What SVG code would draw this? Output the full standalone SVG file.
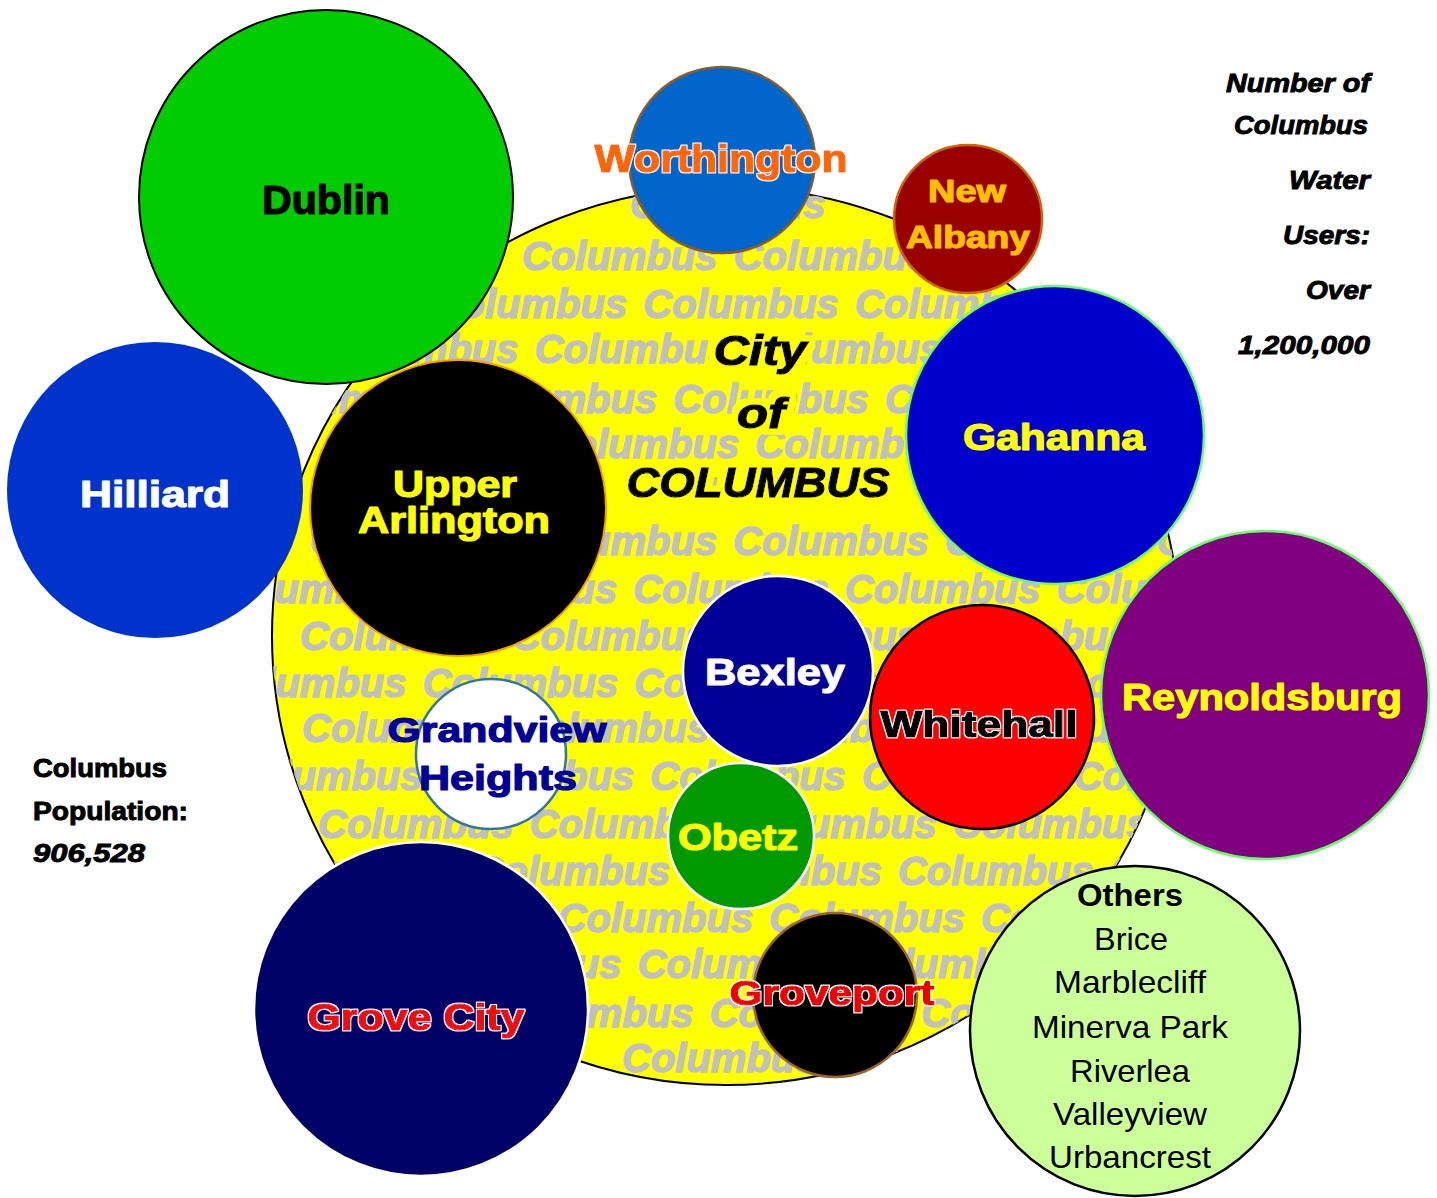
<svg xmlns="http://www.w3.org/2000/svg" width="1437" height="1198" viewBox="0 0 1437 1198">
<style>
.lbl{font-family:"Liberation Sans",Arial,sans-serif;font-weight:bold;text-anchor:middle;fill:currentColor;stroke:currentColor;stroke-width:1.2px;stroke-linejoin:round}
.wm{font-family:"Liberation Sans",Arial,sans-serif;font-weight:bold;font-style:italic;font-size:40px;fill:#C0C0C0;stroke:#C0C0C0;stroke-width:1.4px;word-spacing:5px}
.city{font-family:"Liberation Sans",Arial,sans-serif;font-weight:bold;font-style:italic;font-size:42px;fill:#000;stroke:#000;stroke-width:1.4px;text-anchor:middle;filter:url(#yhalo)}
.side{font-family:"Liberation Sans",Arial,sans-serif;font-weight:bold;font-size:25px;fill:#000;stroke:#000;stroke-width:0.9px}
.oth{font-family:"Liberation Sans",Arial,sans-serif;font-size:32px;fill:#000;text-anchor:middle}
.halo{filter:url(#whalo)}
</style>
<defs>
<clipPath id="yclip"><ellipse cx="726" cy="636" rx="454" ry="449"/></clipPath>
<filter id="yhalo" x="-20%" y="-40%" width="140%" height="180%">
<feMorphology in="SourceAlpha" operator="dilate" radius="6" result="d"/>
<feFlood flood-color="#FFFF00"/>
<feComposite in2="d" operator="in" result="h"/>
<feMerge><feMergeNode in="h"/><feMergeNode in="SourceGraphic"/></feMerge>
</filter>
<filter id="whalo" x="-10%" y="-30%" width="120%" height="160%">
<feMorphology in="SourceAlpha" operator="dilate" radius="1.3" result="d"/>
<feFlood flood-color="#FFFFFF"/>
<feComposite in2="d" operator="in" result="h"/>
<feMerge><feMergeNode in="h"/><feMergeNode in="SourceGraphic"/></feMerge>
</filter>
</defs>
<rect width="1437" height="1198" fill="#FFFFFF"/>

<g id="columbus">
<ellipse cx="726" cy="636" rx="454" ry="449" fill="#FFFF00" stroke="#000" stroke-width="2"/>
<g clip-path="url(#yclip)">
<text class="wm" x="630" y="218">Columbus</text>
<text class="wm" x="522" y="270">Columbus   Columbus Columbus Columbus</text>
<text class="wm" x="220" y="318">Columbus Columbus Columbus Columbus Columbus</text>
<text class="wm" x="323" y="363">Columbus Columbus Columbus Columbus Columbus</text>
<text class="wm" x="250" y="413">Columbus Columbus Columbus Columbus Columbus</text>
<text class="wm" x="332" y="458">Columbus Columbus Columbus Columbus Columbus</text>
<text class="wm" x="642" y="500">Columbus</text>
<text class="wm" x="310" y="555">Columbus Columbus Columbus Columbus Columbus</text>
<text class="wm" x="210" y="603">Columbus Columbus Columbus Columbus Columbus</text>
<text class="wm" x="300" y="650">Columbus Columbus Columbus Columbus Columbus</text>
<text class="wm" x="211" y="697">Columbus Columbus Columbus Columbus Columbus</text>
<text class="wm" x="302" y="742">Columbus Columbus Columbus Columbus Columbus</text>
<text class="wm" x="227" y="790">Columbus Columbus Columbus Columbus Columbus</text>
<text class="wm" x="318" y="838">Columbus Columbus Columbus Columbus Columbus</text>
<text class="wm" x="263" y="885">Columbus Columbus Columbus Columbus Columbus</text>
<text class="wm" x="346" y="932">Columbus Columbus Columbus Columbus Columbus</text>
<text class="wm" x="426" y="978">Columbus Columbus Columbus Columbus</text>
<text class="wm" x="498" y="1027">Columbus Columbus Columbus</text>
<text class="wm" x="622" y="1072">Columbus Columbus</text>
</g>
<text class="city" x="760" y="365" textLength="93" lengthAdjust="spacingAndGlyphs">City</text>
<text class="city" x="761" y="428" textLength="48" lengthAdjust="spacingAndGlyphs">of</text>
<text class="city" x="758" y="497" textLength="263" lengthAdjust="spacingAndGlyphs">COLUMBUS</text>
</g>

<g id="dublin">
<circle cx="326" cy="197" r="187" fill="#00CC00" stroke="#000" stroke-width="2"/>
<text class="lbl" x="326" y="214" font-size="40" color="#000000" textLength="128" lengthAdjust="spacingAndGlyphs">Dublin</text>
</g>

<g id="hilliard">
<circle cx="155" cy="490" r="148" fill="#0033CC"/>
<text class="lbl" x="155" y="507" font-size="37" color="#FFFFFF" textLength="150" lengthAdjust="spacingAndGlyphs">Hilliard</text>
</g>

<g id="upper-arlington">
<circle cx="458" cy="508" r="148" fill="#000000" stroke="#F5A000" stroke-width="2"/>
<text class="lbl" x="455" y="497" font-size="36" color="#FFFF00" textLength="124" lengthAdjust="spacingAndGlyphs">Upper</text>
<text class="lbl" x="454" y="533" font-size="36" color="#FFFF00" textLength="192" lengthAdjust="spacingAndGlyphs">Arlington</text>
</g>

<g id="worthington">
<circle cx="722" cy="160" r="93" fill="#0066CC" stroke="#8B5A2B" stroke-width="2.5"/>
<text class="lbl halo" x="721" y="172" font-size="38" color="#FF6600" textLength="253" lengthAdjust="spacingAndGlyphs">Worthington</text>
</g>

<g id="new-albany">
<circle cx="968" cy="219" r="74" fill="#990000" stroke="#CC6600" stroke-width="2.5"/>
<text class="lbl" x="967" y="202" font-size="32" color="#FFC000" textLength="78" lengthAdjust="spacingAndGlyphs">New</text>
<text class="lbl" x="968" y="248" font-size="32" color="#FFC000" textLength="124" lengthAdjust="spacingAndGlyphs">Albany</text>
</g>

<g id="gahanna">
<circle cx="1055" cy="435" r="149" fill="#0000CC" stroke="#66FF66" stroke-width="2.5"/>
<text class="lbl" x="1054" y="450" font-size="37" color="#FFFF00" textLength="182" lengthAdjust="spacingAndGlyphs">Gahanna</text>
</g>

<g id="reynoldsburg">
<circle cx="1265" cy="695" r="164" fill="#800080" stroke="#66FF66" stroke-width="2.5"/>
<text class="lbl" x="1262" y="710" font-size="37" color="#FFFF00" textLength="280" lengthAdjust="spacingAndGlyphs">Reynoldsburg</text>
</g>

<g id="bexley">
<circle cx="778" cy="671" r="95" fill="#000099" stroke="#FFFFFF" stroke-width="2.5"/>
<text class="lbl" x="775" y="685" font-size="36" color="#FFFFFF" textLength="140" lengthAdjust="spacingAndGlyphs">Bexley</text>
</g>

<g id="whitehall">
<circle cx="982" cy="717" r="112" fill="#FF0000" stroke="#000" stroke-width="2.5"/>
<text class="lbl halo" x="979" y="737" font-size="36" color="#000000" textLength="197" lengthAdjust="spacingAndGlyphs">Whitehall</text>
</g>

<g id="grandview-heights">
<circle cx="491" cy="754" r="75" fill="#FFFFFF" stroke="#2F76A8" stroke-width="2.5"/>
<text class="lbl" x="497" y="742" font-size="35" color="#000099" textLength="219" lengthAdjust="spacingAndGlyphs">Grandview</text>
<text class="lbl" x="498" y="790" font-size="35" color="#000099" textLength="158" lengthAdjust="spacingAndGlyphs">Heights</text>
</g>

<g id="obetz">
<circle cx="741" cy="836" r="73" fill="#009900" stroke="#FFFFFF" stroke-width="2.5"/>
<text class="lbl" x="738" y="850" font-size="37" color="#FFFF00" textLength="120" lengthAdjust="spacingAndGlyphs">Obetz</text>
</g>

<g id="grove-city">
<circle cx="421" cy="1009" r="167" fill="#000066" stroke="#FFFFFF" stroke-width="2.5"/>
<text class="lbl halo" x="416" y="1030" font-size="37" color="#EE1111" textLength="217" lengthAdjust="spacingAndGlyphs">Grove City</text>
</g>

<g id="groveport">
<circle cx="835" cy="995" r="82" fill="#000000" stroke="#99662F" stroke-width="2.5"/>
<text class="lbl halo" x="832" y="1005" font-size="35" color="#EE0000" textLength="205" lengthAdjust="spacingAndGlyphs">Groveport</text>
</g>

<g id="others">
<circle cx="1135" cy="1031" r="165" fill="#CCFF99" stroke="#000" stroke-width="2.5"/>
<text class="oth" x="1130" y="906" font-weight="bold" textLength="106" lengthAdjust="spacingAndGlyphs">Others</text>
<text class="oth" x="1131" y="950" textLength="74" lengthAdjust="spacingAndGlyphs">Brice</text>
<text class="oth" x="1130" y="993" textLength="152" lengthAdjust="spacingAndGlyphs">Marblecliff</text>
<text class="oth" x="1130" y="1038" textLength="196" lengthAdjust="spacingAndGlyphs">Minerva Park</text>
<text class="oth" x="1130" y="1082" textLength="120" lengthAdjust="spacingAndGlyphs">Riverlea</text>
<text class="oth" x="1130" y="1125" textLength="154" lengthAdjust="spacingAndGlyphs">Valleyview</text>
<text class="oth" x="1130" y="1168" textLength="162" lengthAdjust="spacingAndGlyphs">Urbancrest</text>
</g>

<g id="water-users" font-style="italic" text-anchor="end">
<text class="side" x="1370" y="92" textLength="144" lengthAdjust="spacingAndGlyphs">Number of</text>
<text class="side" x="1368" y="134" textLength="134" lengthAdjust="spacingAndGlyphs">Columbus</text>
<text class="side" x="1370" y="189" textLength="81" lengthAdjust="spacingAndGlyphs">Water</text>
<text class="side" x="1370" y="244" textLength="87" lengthAdjust="spacingAndGlyphs">Users:</text>
<text class="side" x="1370" y="299" textLength="64" lengthAdjust="spacingAndGlyphs">Over</text>
<text class="side" x="1370" y="354" textLength="132" lengthAdjust="spacingAndGlyphs">1,200,000</text>
</g>

<g id="population">
<text class="side" x="33" y="777" font-size="23" textLength="134" lengthAdjust="spacingAndGlyphs">Columbus</text>
<text class="side" x="33" y="820" font-size="23" textLength="155" lengthAdjust="spacingAndGlyphs">Population:</text>
<text class="side" x="33" y="862" font-size="23" font-style="italic" textLength="112" lengthAdjust="spacingAndGlyphs">906,528</text>
</g>

<g id="connectors"/>
</svg>
